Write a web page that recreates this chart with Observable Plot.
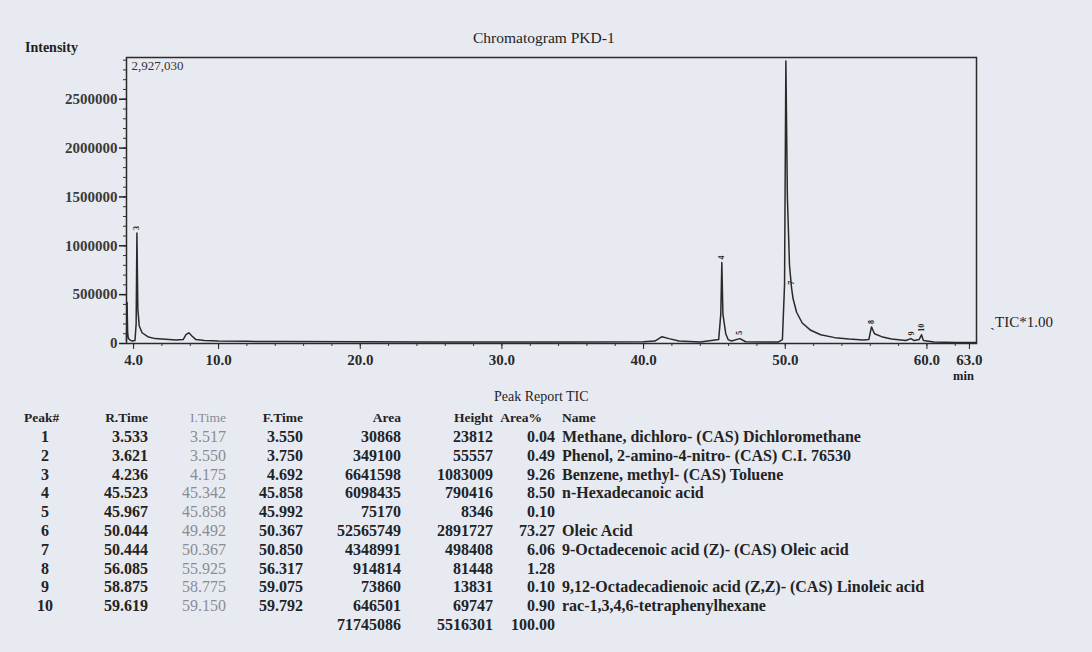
<!DOCTYPE html>
<html>
<head>
<meta charset="utf-8">
<script src="https://cdn.jsdelivr.net/npm/d3@7"></script>
<script src="https://cdn.jsdelivr.net/npm/@observablehq/plot@0.6"></script>
<style>
  html, body { margin: 0; padding: 0; }
  body { width: 1092px; height: 652px; background: #e8eaf1; position: relative; overflow: hidden;
         font-family: "Liberation Serif", "DejaVu Serif", serif; color: #1e1e1e; }
  #chart { position: absolute; left: 0; top: 0; }
  .t { position: absolute; white-space: nowrap; line-height: 16px; }
  .b { font-weight: bold; }
  .cell { position: absolute; white-space: nowrap; line-height: 18px; font-size: 16px; font-weight: bold; color: #232323; }
  .hd { font-size: 13.5px; }
  .r { text-align: right; width: 200px; }
  .faded { color: #8a8c93; font-weight: normal; }
</style>
</head>
<body>
<div id="chart"></div>
<script>
// ---- chromatogram trace ----
const traceTime = [3.50, 3.54, 3.58, 3.62, 3.70, 3.90, 4.10, 4.18, 4.236, 4.30, 4.40, 4.60, 5.00, 5.50, 6.00, 7.00,
  7.50, 7.70, 7.90, 8.10, 8.40, 9.00, 10.0, 12.0, 15.0, 20.0, 25.0, 30.0, 35.0, 40.0, 40.8, 41.3, 41.8, 42.5,
  44.0, 45.3, 45.45, 45.523, 45.6, 45.8, 45.967, 46.2, 46.8, 47.2, 49.5, 49.8, 49.95, 50.044, 50.15, 50.3, 50.444,
  50.55, 50.8, 51.2, 51.8, 52.5, 53.5, 54.5, 55.5, 55.9, 56.085, 56.3, 56.8, 57.5, 58.5, 58.875, 59.1, 59.45,
  59.619, 59.75, 60.5, 62.0, 63.5];
const traceIntensity = [30000, 420000, 120000, 60000, 40000, 25000, 30000, 200000, 1130000, 350000, 180000, 110000,
  70000, 50000, 45000, 35000, 40000, 90000, 110000, 80000, 40000, 30000, 25000, 22000, 20000, 18000, 15000, 15000,
  15000, 18000, 25000, 70000, 50000, 25000, 15000, 40000, 300000, 830000, 300000, 100000, 40000, 25000, 50000,
  18000, 15000, 40000, 600000, 2891727, 1500000, 800000, 570000, 460000, 320000, 210000, 135000, 90000, 60000,
  45000, 35000, 40000, 170000, 100000, 70000, 45000, 30000, 50000, 30000, 40000, 90000, 30000, 15000, 10000, 10000];

const yMax = 2927030;
const yMajor = [0, 500000, 1000000, 1500000, 2000000, 2500000];
const yMinor = d3.range(0, 2900001, 100000);
const xMajor = [4, 10, 20, 30, 40, 50, 60, 63];
const xMinor = d3.range(4, 63.1, 2);

// ---- peak report table ----
const peakNo = [1, 2, 3, 4, 5, 6, 7, 8, 9, 10];
const rTime = ["3.533", "3.621", "4.236", "45.523", "45.967", "50.044", "50.444", "56.085", "58.875", "59.619"];
const iTime = ["3.517", "3.550", "4.175", "45.342", "45.858", "49.492", "50.367", "55.925", "58.775", "59.150"];
const fTime = ["3.550", "3.750", "4.692", "45.858", "45.992", "50.367", "50.850", "56.317", "59.075", "59.792"];
const area = [30868, 349100, 6641598, 6098435, 75170, 52565749, 4348991, 914814, 73860, 646501];
const heightVals = [23812, 55557, 1083009, 790416, 8346, 2891727, 498408, 81448, 13831, 69747];
const areaPct = ["0.04", "0.49", "9.26", "8.50", "0.10", "73.27", "6.06", "1.28", "0.10", "0.90"];
const names = ["Methane, dichloro- (CAS) Dichloromethane", "Phenol, 2-amino-4-nitro- (CAS) C.I. 76530",
  "Benzene, methyl- (CAS) Toluene", "n-Hexadecanoic acid", "", "Oleic Acid",
  "9-Octadecenoic acid (Z)- (CAS) Oleic acid", "", "9,12-Octadecadienoic acid (Z,Z)- (CAS) Linoleic acid",
  "rac-1,3,4,6-tetraphenylhexane"];
const totalArea = 71745086, totalHeight = 5516301, totalPct = "100.00";

// peak labels drawn at peak apex (apex values)
const labelPeaks = [3, 4, 5, 7, 8, 9, 10];
const labelApex = [1130000, 830000, 60000, 570000, 170000, 50000, 90000];
const labelTime = [4.236, 45.523, 46.8, 50.444, 56.085, 58.875, 59.619];

const trace = traceTime.map((t, i) => ({t, v: traceIntensity[i]}));
const labels = labelPeaks.map((n, i) => ({n: String(n), t: labelTime[i], v: labelApex[i]}));

const plot = Plot.plot({
  width: 1092, height: 390,
  marginLeft: 126, marginRight: 116, marginTop: 57, marginBottom: 47,
  x: {domain: [3.5, 63.5]},
  y: {domain: [0, yMax]},
  style: {background: "transparent", fontFamily: "Liberation Serif, serif", color: "#222", overflow: "visible"},
  marks: [
    Plot.line(trace, {x: "t", y: "v", stroke: "#2a2a2a", strokeWidth: 1.5}),
    Plot.frame({stroke: "#2a2a2a", strokeWidth: 1.5}),
    Plot.axisY(yMinor, {tickSize: 3, tickFormat: () => "", label: null, stroke: "#333"}),
    Plot.axisY(yMajor, {tickSize: 7, tickPadding: 2, tickFormat: d => String(d), label: null,
      fontSize: 15, fontWeight: "bold", fill: "#3a3a3a", stroke: "#222", strokeWidth: 1.5}),
    Plot.axisX(xMinor, {tickSize: 3, tickFormat: () => "", label: null, stroke: "#333"}),
    Plot.axisX(xMajor, {tickSize: 6, tickPadding: 5, tickFormat: d => d.toFixed(1), label: null,
      fontSize: 15, fontWeight: "bold", fill: "#2a2a2a", stroke: "#222"}),
    Plot.text([yMax], {x: () => 3.5, y: d => d, text: d => d3.format(",")(d), dx: 5, dy: 8,
      textAnchor: "start", fontSize: 13, fill: "#333"}),
    Plot.text(labels, {x: "t", y: "v", text: "n", rotate: -90, dy: -3, textAnchor: "start",
      fontSize: 8, fontWeight: "bold", fill: "#222"})
  ]
});
document.getElementById("chart").appendChild(plot);

function addText(txt, left, top, cls, extra) {
  const d = document.createElement("div");
  d.className = cls;
  d.textContent = txt;
  d.style.left = left + "px";
  d.style.top = top + "px";
  if (extra) Object.assign(d.style, extra);
  document.body.appendChild(d);
  return d;
}
// titles and annotations
addText("Chromatogram PKD-1", 473, 30, "t", {fontSize: "15.5px"});
addText("Intensity", 25, 40, "t b", {fontSize: "14px"});
addText("\u02CFTIC*1.00", 990, 314, "t", {fontSize: "15px"});
addText("min", 953, 369, "t b", {fontSize: "12.5px", lineHeight: "14px"});
addText("Peak Report TIC", 494, 389, "t", {fontSize: "14px"});

// table
const headerTop = 409, rowTop = 428, rowStep = 18.8;
const cols = [
  {h: "Peak#", right: 57, hLeft: 24, vals: peakNo.map(String), center: 45},
  {h: "R.Time", right: 148, vals: rTime},
  {h: "I.Time", right: 226, vals: iTime, faded: true},
  {h: "F.Time", right: 303, vals: fTime},
  {h: "Area", right: 401, vals: area.map(String), total: String(totalArea)},
  {h: "Height", right: 493, vals: heightVals.map(String), total: String(totalHeight)},
  {h: "Area%", right: 555, vals: areaPct, total: totalPct, hRight: 542}
];
cols.forEach(c => {
  const hr = c.hRight || c.right;
  const fc = c.faded ? " faded" : "";
  if (c.hLeft != null) addText(c.h, c.hLeft, headerTop, "cell hd" + fc);
  else addText(c.h, hr - 200, headerTop, "cell hd r" + fc);
  c.vals.forEach((v, i) => {
    const top = rowTop + i * rowStep;
    if (c.center != null) addText(v, c.center - 100, top, "cell", {width: "200px", textAlign: "center"});
    else addText(v, c.right - 200, top, "cell r" + fc);
  });
  if (c.total) addText(c.total, c.right - 200, rowTop + 10 * rowStep, "cell r");
});
addText("Name", 562, headerTop, "cell hd");
names.forEach((n, i) => { if (n) addText(n, 562, rowTop + i * rowStep, "cell"); });
</script>
</body>
</html>
